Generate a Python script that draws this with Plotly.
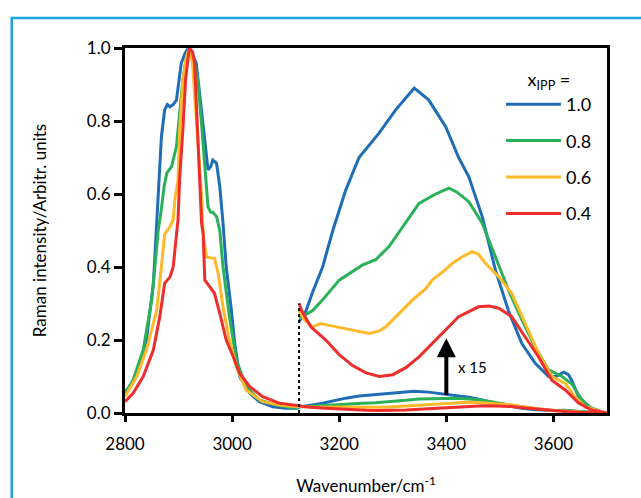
import plotly.graph_objects as go

# ---------------- data ----------------
series_names = ["1.0", "0.8", "0.6", "0.4"]
colors = ["#1F6DB7", "#2BB05A", "#FDB92A", "#EE2D2D"]

# full-scale spectra (2800 - ~3125 cm-1)
blue_x = [2800, 2812, 2828, 2840, 2853, 2859, 2862, 2865, 2868, 2874, 2879, 2884, 2890, 2896, 2902, 2905,
          2912, 2918, 2924, 2933, 2940, 2949, 2955, 2960, 2964, 2971, 2977, 2983, 2989, 2998, 3005, 3014,
          3033, 3051, 3076, 3101, 3122]
blue_y = [0.058, 0.077, 0.127, 0.20, 0.355, 0.52, 0.60, 0.684, 0.757, 0.83, 0.845, 0.839, 0.845, 0.857,
          0.92, 0.958, 0.985, 1.0, 0.99, 0.958, 0.867, 0.739, 0.666, 0.675, 0.693, 0.684, 0.62, 0.52, 0.40,
          0.29, 0.19, 0.10, 0.054, 0.031, 0.017, 0.013, 0.013]

green_x = [2800, 2815, 2834, 2850, 2857, 2862, 2868, 2873, 2878, 2887, 2896, 2902, 2908, 2914, 2920, 2928,
           2936, 2943, 2949, 2955, 2960, 2964, 2971, 2977, 2983, 2995, 3008, 3026, 3051, 3082, 3119]
green_y = [0.054, 0.09, 0.173, 0.31, 0.42, 0.50, 0.56, 0.62, 0.657, 0.675, 0.73, 0.82, 0.912, 0.97, 1.0,
           0.97, 0.912, 0.79, 0.666, 0.565, 0.55, 0.55, 0.538, 0.50, 0.40, 0.264, 0.145, 0.072, 0.036,
           0.022, 0.013]

yellow_x = [2800, 2822, 2840, 2859, 2868, 2874, 2884, 2890, 2893, 2899, 2902, 2908, 2914, 2920, 2926, 2930,
            2936, 2943, 2946, 2952, 2960, 2967, 2974, 2983, 2995, 3008, 3026, 3057, 3088, 3122]
yellow_y = [0.045, 0.10, 0.173, 0.28, 0.40, 0.49, 0.51, 0.53, 0.584, 0.64, 0.775, 0.91, 0.97, 1.0, 0.96,
            0.867, 0.73, 0.593, 0.49, 0.428, 0.425, 0.424, 0.383, 0.29, 0.20, 0.127, 0.063, 0.031, 0.022,
            0.017]

red_x = [2800, 2815, 2834, 2853, 2865, 2874, 2884, 2890, 2899, 2902, 2908, 2913, 2920, 2926, 2930, 2936,
         2940, 2943, 2946, 2949, 2958, 2967, 2977, 2989, 3002, 3014, 3033, 3057, 3088, 3122]
red_y = [0.031, 0.054, 0.10, 0.173, 0.264, 0.355, 0.373, 0.40, 0.53, 0.64, 0.775, 0.912, 1.0, 0.99, 0.958,
         0.775, 0.64, 0.52, 0.49, 0.364, 0.346, 0.328, 0.273, 0.20, 0.154, 0.109, 0.072, 0.045, 0.027,
         0.022]

# OH-stretch region, magnified x15 (3125 - 3700 cm-1)
blue15_x = [3125, 3138, 3150, 3169, 3188, 3212, 3237, 3274, 3305, 3340, 3367, 3399, 3423, 3442, 3467, 3492,
            3516, 3541, 3566, 3591, 3605, 3619, 3628, 3634, 3647, 3665, 3690, 3700]
blue15_y = [0.25, 0.28, 0.33, 0.40, 0.50, 0.61, 0.70, 0.766, 0.83, 0.89, 0.858, 0.784, 0.70, 0.647, 0.538,
            0.39, 0.28, 0.19, 0.136, 0.10, 0.10, 0.112, 0.105, 0.09, 0.045, 0.017, 0.003, 0.0]

green15_x = [3125, 3150, 3169, 3200, 3243, 3268, 3293, 3324, 3349, 3380, 3405, 3420, 3442, 3467, 3492, 3516,
             3541, 3566, 3591, 3616, 3634, 3653, 3671, 3690, 3700]
green15_y = [0.26, 0.28, 0.31, 0.364, 0.405, 0.42, 0.456, 0.52, 0.574, 0.60, 0.616, 0.605, 0.579, 0.52,
             0.428, 0.337, 0.255, 0.18, 0.118, 0.10, 0.08, 0.036, 0.013, 0.003, 0.0]

yellow15_x = [3125, 3135, 3150, 3165, 3181, 3200, 3225, 3256, 3275, 3287, 3310, 3337, 3361, 3374, 3398,
              3411, 3430, 3448, 3460, 3473, 3498, 3522, 3547, 3572, 3597, 3622, 3640, 3659, 3690, 3700]
yellow15_y = [0.28, 0.255, 0.236, 0.245, 0.24, 0.235, 0.227, 0.218, 0.225, 0.236, 0.27, 0.31, 0.34, 0.365,
              0.392, 0.41, 0.428, 0.442, 0.435, 0.41, 0.373, 0.328, 0.246, 0.164, 0.10, 0.081, 0.045, 0.017,
              0.003, 0.0]

red15_x = [3125, 3130, 3147, 3175, 3200, 3225, 3250, 3275, 3300, 3325, 3349, 3370, 3392, 3423, 3460, 3480,
           3498, 3522, 3547, 3572, 3597, 3622, 3647, 3671, 3700]
red15_y = [0.30, 0.28, 0.236, 0.20, 0.16, 0.13, 0.11, 0.10, 0.105, 0.125, 0.154, 0.185, 0.218, 0.264, 0.291,
           0.293, 0.287, 0.264, 0.209, 0.154, 0.09, 0.063, 0.027, 0.008, 0.0]

MAGNIFICATION = 15
DIVIDER_X = 3125
x_ticks = [2800, 3000, 3200, 3400, 3600]
y_ticks = [0.0, 0.2, 0.4, 0.6, 0.8, 1.0]

main_x = [blue_x, green_x, yellow_x, red_x]
main_y = [blue_y, green_y, yellow_y, red_y]
mag_x = [blue15_x, green15_x, yellow15_x, red15_x]
mag_y = [blue15_y, green15_y, yellow15_y, red15_y]

FONT = "Lato"

fig = go.Figure()

for i, name in enumerate(series_names):
    # full spectrum: low-wavenumber part plus de-magnified OH region
    fx = main_x[i] + mag_x[i]
    fy = main_y[i] + [v / MAGNIFICATION for v in mag_y[i]]
    fig.add_trace(go.Scatter(x=fx, y=fy, mode="lines", name=name, legendgroup=name,
                             line=dict(color=colors[i], width=3), showlegend=True))

for i, name in enumerate(series_names):
    fig.add_trace(go.Scatter(x=mag_x[i], y=mag_y[i], mode="lines", name=name + " x15",
                             legendgroup=name, line=dict(color=colors[i], width=3),
                             showlegend=False))

fig.add_shape(type="line", xref="x", yref="y", x0=DIVIDER_X, x1=DIVIDER_X, y0=0,
              y1=max(m[0] for m in mag_y), line=dict(color="black", width=2, dash="dot"))

fig.add_annotation(x=3400, y=0.205, ax=3400, ay=0.045, xref="x", yref="y", axref="x", ayref="y",
                   showarrow=True, arrowhead=2, arrowsize=0.95, arrowwidth=4, arrowcolor="black", text="")
fig.add_annotation(x=3418, y=0.125, xref="x", yref="y", text="x 15", showarrow=False,
                   xanchor="left", font=dict(size=15, color="black", family=FONT))

# outer light-blue frame
fig.add_shape(type="rect", xref="paper", yref="paper", x0=-0.235, x1=1.5, y0=-0.6, y1=1.082,
              line=dict(color="#1AA7E0", width=2.5), fillcolor="rgba(0,0,0,0)", layer="below")

fig.update_layout(
    width=641, height=498,
    margin=dict(l=125, r=34, t=48, b=85, autoexpand=False),
    plot_bgcolor="white", paper_bgcolor="white",
    font=dict(family=FONT, size=17, color="black"),
    legend=dict(x=0.78, y=0.96, xanchor="left", yanchor="top", bgcolor="rgba(0,0,0,0)",
                title=dict(text="x<sub>IPP</sub> =", side="top center", font=dict(size=18)),
                font=dict(size=18), itemwidth=55, tracegroupgap=10, traceorder="grouped"),
    xaxis=dict(range=[2800, 3700], tickvals=x_ticks, ticks="outside", ticklen=6, tickwidth=3,
               tickcolor="black", showline=True, linecolor="black", linewidth=3, mirror=True,
               showgrid=False, zeroline=False, ticklabelstandoff=8, automargin=False,
               title=dict(text="Wavenumber/cm<sup>-1</sup>", standoff=27, font=dict(size=17))),
    yaxis=dict(range=[0, 1.0], tickvals=y_ticks, tickformat=".1f", ticks="outside", ticklen=8,
               tickwidth=3, tickcolor="black", showline=True, linecolor="black", linewidth=3,
               mirror=True, showgrid=False, zeroline=False, automargin=False,
               title=dict(text="Raman intensity/Arbitr. units", standoff=36, font=dict(size=17))),
)

fig.write_html("out.html", config={"displayModeBar": False},
               post_script="document.body.style.margin='0px';")
